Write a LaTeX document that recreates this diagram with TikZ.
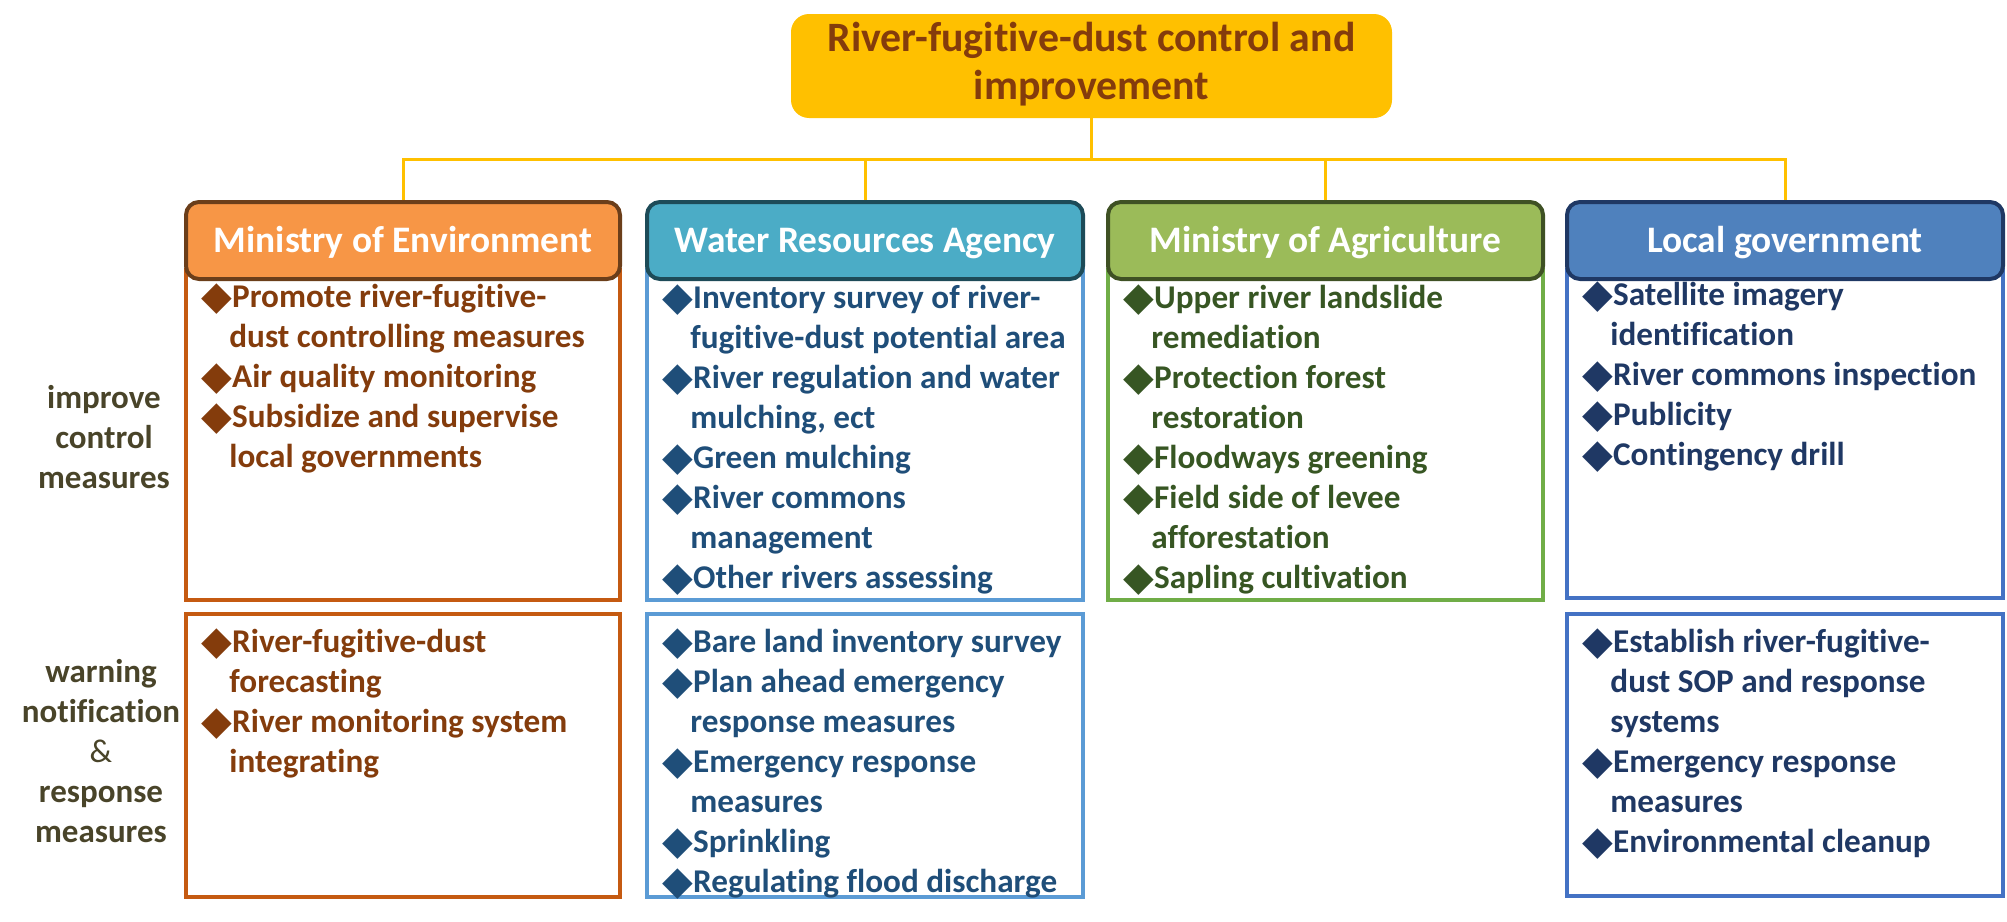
\documentclass[tikz,border=0pt]{standalone}
\usepackage{fontspec}
\setmainfont{Carlito}[Ligatures=CommonOff]
\newfontfamily\dvfont{DejaVu Sans}
\definecolor{titleY}{HTML}{FFC000}
\definecolor{titleT}{HTML}{843C0C}
\definecolor{meF}{HTML}{F79646}
\definecolor{meD}{HTML}{6B3E1A}
\definecolor{meB}{HTML}{C55A11}
\definecolor{meT}{HTML}{843C0C}
\definecolor{wrF}{HTML}{4BACC6}
\definecolor{wrD}{HTML}{1D4B58}
\definecolor{wrB}{HTML}{5B9BD5}
\definecolor{wrT}{HTML}{1F4E79}
\definecolor{maF}{HTML}{9BBB59}
\definecolor{maD}{HTML}{3F5124}
\definecolor{maB}{HTML}{70AD47}
\definecolor{maT}{HTML}{375623}
\definecolor{lgF}{HTML}{4F81BD}
\definecolor{lgD}{HTML}{1F3864}
\definecolor{lgB}{HTML}{4472C4}
\definecolor{lgT}{HTML}{1F3864}
\definecolor{sideT}{HTML}{494429}
\newcommand\dmd{\raisebox{-0.8pt}{\dvfont\fontsize{20}{20}\selectfont ◆}}
\newcommand\itind{\hspace*{14pt}}
\begin{document}
\begin{tikzpicture}[x=0.5pt,y=-0.5pt,
  conn/.style={draw=titleY, line width=1.5pt},
  hdrbox/.style={draw, line width=2pt, rounded corners=6.5pt, text=white,
    font=\bfseries\fontsize{18.7}{20}\selectfont, minimum height=38.5pt,
    text height=12pt, text depth=0pt, inner sep=0pt},
  bodybox/.style={draw, line width=2.2pt, inner sep=0pt},
  items/.style={anchor=north west, align=left, inner sep=0pt,
    font=\bfseries\fontsize{16.6}{20}\selectfont},
  sidelab/.style={anchor=north, align=center, inner sep=0pt, text=sideT,
    font=\bfseries\fontsize{16.5}{20}\selectfont}
]
\useasboundingbox (0,0) rectangle (2007,921);

% title
\node[fill=titleY, rounded corners=9pt, minimum width=300.5pt, minimum height=52pt,
  align=center, text=titleT, font=\bfseries\fontsize{20.9}{24}\selectfont, inner sep=0pt]
  (title) at (1091.5,66) {\strut River-fugitive-dust control and\\improvement\strut};

% body boxes (upper)
\node[bodybox, draw=meB, minimum width=217pt, minimum height=165pt] (mebody) at (403,435) {};
\node[bodybox, draw=wrB, minimum width=218pt, minimum height=165pt] (wrbody) at (865,435) {};
\node[bodybox, draw=maB, minimum width=217.5pt, minimum height=165pt] (mabody) at (1325.5,435) {};
\node[bodybox, draw=lgB, minimum width=218pt, minimum height=164pt] (lgbody) at (1785,434) {};
% body boxes (lower)
\node[bodybox, draw=meB, minimum width=217pt, minimum height=141.5pt] (melow) at (403,755.5) {};
\node[bodybox, draw=wrB, minimum width=218pt, minimum height=141.5pt] (wrlow) at (865,755.5) {};
\node[bodybox, draw=lgB, minimum width=218pt, minimum height=141pt] (lglow) at (1785,755) {};

% headers
\node[hdrbox, fill=meF, draw=meD, minimum width=217pt] (mehdr) at (403,240.5) {Ministry of Environment};
\node[hdrbox, fill=wrF, draw=wrD, minimum width=218pt] (wrhdr) at (865,240.5) {Water Resources Agency};
\node[hdrbox, fill=maF, draw=maD, minimum width=217.5pt] (mahdr) at (1325.5,240.5) {Ministry of Agriculture};
\node[hdrbox, fill=lgF, draw=lgD, minimum width=218pt] (lghdr) at (1785,240.5) {Local government};

% connectors
\coordinate (bus) at (1091.5,159);
\draw[conn] (title.south) -- (bus);
\draw[conn] (mehdr.north) -- (mehdr.north |- bus) -- (lghdr.north |- bus) -- (lghdr.north);
\draw[conn] (wrhdr.north) -- (wrhdr.north |- bus);
\draw[conn] (mahdr.north) -- (mahdr.north |- bus);

% side labels
\node[sidelab] (improve) at (104,380) {\strut improve\\control\\measures};
\node[sidelab] (warn) at (101,654) {\strut warning\\notification\\{\mdseries\&}\\response\\measures};

% items
\node[items, text=meT] (meup) at (201,279) {\strut\dmd Promote river-fugitive-\\\itind dust controlling measures\\\dmd Air quality monitoring\\\dmd Subsidize and supervise\\\itind local governments};
\node[items, text=meT] (melo) at (201,624) {\strut\dmd River-fugitive-dust\\\itind forecasting\\\dmd River monitoring system\\\itind integrating};
\node[items, text=wrT] (wrup) at (662,280) {\strut\dmd Inventory survey of river-\\\itind fugitive-dust potential area\\\dmd River regulation and water\\\itind mulching, ect\\\dmd Green mulching\\\dmd River commons\\\itind management\\\dmd Other rivers assessing};
\node[items, text=wrT] (wrlo) at (662,624) {\strut\dmd Bare land inventory survey\\\dmd Plan ahead emergency\\\itind response measures\\\dmd Emergency response\\\itind measures\\\dmd Sprinkling\\\dmd Regulating flood discharge};
\node[items, text=maT] (maup) at (1123,280) {\strut\dmd Upper river landslide\\\itind remediation\\\dmd Protection forest\\\itind restoration\\\dmd Floodways greening\\\dmd Field side of levee\\\itind afforestation\\\dmd Sapling cultivation};
\node[items, text=lgT] (lgup) at (1582,277) {\strut\dmd Satellite imagery\\\itind identification\\\dmd River commons inspection\\\dmd Publicity\\\dmd Contingency drill};
\node[items, text=lgT] (lglo) at (1582,624) {\strut\dmd Establish river-fugitive-\\\itind dust SOP and response\\\itind systems\\\dmd Emergency response\\\itind measures\\\dmd Environmental cleanup};
\end{tikzpicture}
\end{document}
